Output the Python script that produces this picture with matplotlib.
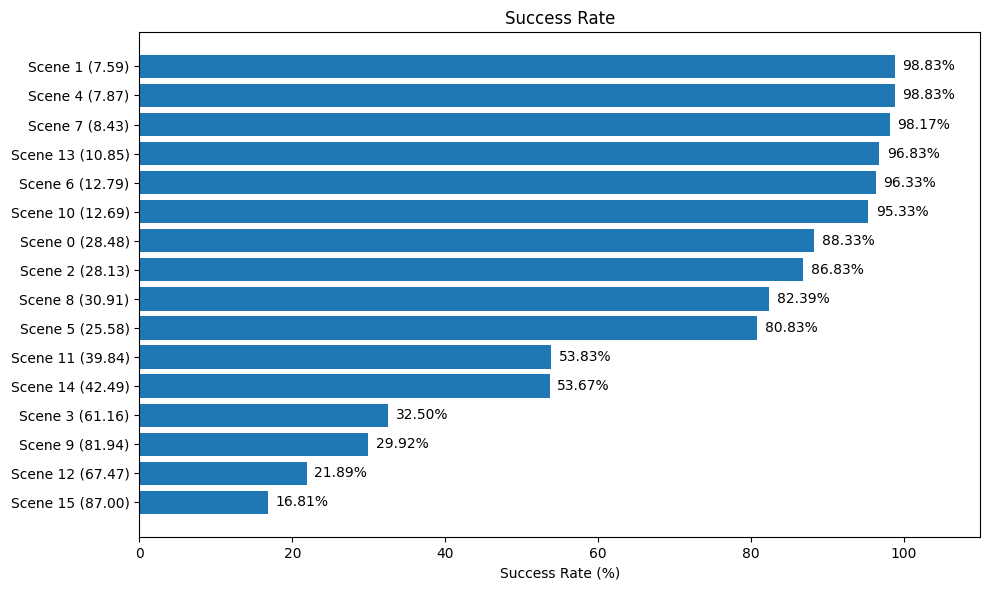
import matplotlib
matplotlib.use("Agg")
import matplotlib.pyplot as plt

labels = ["Scene 1 (7.59)", "Scene 4 (7.87)", "Scene 7 (8.43)", "Scene 13 (10.85)",
          "Scene 6 (12.79)", "Scene 10 (12.69)", "Scene 0 (28.48)", "Scene 2 (28.13)",
          "Scene 8 (30.91)", "Scene 5 (25.58)", "Scene 11 (39.84)", "Scene 14 (42.49)",
          "Scene 3 (61.16)", "Scene 9 (81.94)", "Scene 12 (67.47)", "Scene 15 (87.00)"]
rates = [98.83, 98.83, 98.17, 96.83, 96.33, 95.33, 88.33, 86.83,
         82.39, 80.83, 53.83, 53.67, 32.50, 29.92, 21.89, 16.81]

fig, ax = plt.subplots(figsize=(9.89, 5.9), dpi=100)
bars = ax.barh(labels, rates, color="#1f77b4")
ax.invert_yaxis()
for b, v in zip(bars, rates):
    ax.text(b.get_width() + 1, b.get_y() + b.get_height() / 2, f"{v:.2f}%",
            va="center", ha="left", fontsize=10)
ax.set_xlim(0, 110)
ax.set_xlabel("Success Rate (%)")
ax.set_title("Success Rate")
fig.subplots_adjust(left=0.141, right=0.991, top=0.946, bottom=0.09)
fig.savefig("out.png", dpi=100)
